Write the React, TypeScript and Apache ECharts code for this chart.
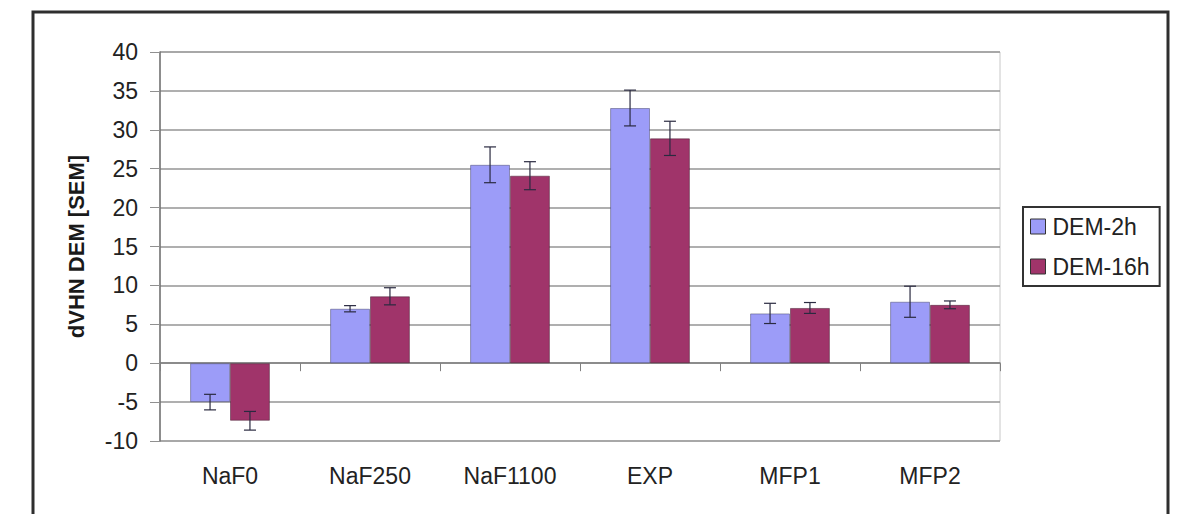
import React, { useEffect, useRef } from "react";
import * as echarts from "echarts";

const categories = ["NaF0", "NaF250", "NaF1100", "EXP", "MFP1", "MFP2"];
const seriesNames = ["DEM-2h", "DEM-16h"];
const dem2h = [-5.0, 7.0, 25.5, 32.8, 6.4, 7.9];
const dem16h = [-7.4, 8.6, 24.1, 28.9, 7.1, 7.5];
const dem2hSem = [1.0, 0.4, 2.3, 2.3, 1.3, 2.0];
const dem16hSem = [1.2, 1.1, 1.8, 2.2, 0.7, 0.5];
const yMin = -10;
const yMax = 40;
const yStep = 5;

const FONT = "'Liberation Sans', Arial, sans-serif";
const GAP = 0.43;
const colors = ["#9c9cf8", "#a0346a"];

function errorSeries(name: string, vals: number[], errs: number[], side: number) {
  return {
    name: name + " SEM",
    type: "custom",
    z: 5,
    xAxisIndex: 0,
    yAxisIndex: 0,
    data: vals.map((v, i) => [i, v, errs[i]]),
    encode: { x: 0, y: 1 },
    renderItem: (params: any, api: any) => {
      const idx = api.value(0);
      const v = api.value(1);
      const e = api.value(2);
      const band = api.size([1, 0])[0];
      const barW = (band * (1 - GAP)) / 2;
      const hi = api.coord([idx, v + e]);
      const lo = api.coord([idx, v - e]);
      const x = hi[0] + (side * barW) / 2;
      const cap = 6;
      const style = { stroke: "#2a2a40", lineWidth: 1.2 };
      return {
        type: "group",
        children: [
          { type: "line", shape: { x1: x, y1: hi[1], x2: x, y2: lo[1] }, style },
          { type: "line", shape: { x1: x - cap, y1: hi[1], x2: x + cap, y2: hi[1] }, style },
          { type: "line", shape: { x1: x - cap, y1: lo[1], x2: x + cap, y2: lo[1] }, style },
        ],
      };
    },
  };
}

export default function App() {
  const ref = useRef<HTMLDivElement>(null);
  useEffect(() => {
    if (!ref.current) return;
    const chart = echarts.init(ref.current, null, { renderer: "svg" });
    chart.setOption({
      animation: false,
      backgroundColor: "#ffffff",
      textStyle: { fontFamily: FONT },
      grid: { left: 160, top: 52, right: 177, bottom: 73, show: true, borderColor: "#c8c8c8", borderWidth: 1, backgroundColor: "transparent" },
      legend: {
        data: seriesNames,
        orient: "vertical",
        left: 1023,
        top: 207,
        padding: [8, 10, 8, 7],
        itemGap: 17,
        itemWidth: 15,
        itemHeight: 15,
        icon: "rect",
        borderColor: "#333",
        borderWidth: 2,
        borderRadius: 0,
        itemStyle: { borderColor: "#333", borderWidth: 1 },
        textStyle: { fontFamily: FONT, fontSize: 23, color: "#222", lineHeight: 23, padding: [0, 0, 0, 2] },
        selectedMode: false,
      },
      xAxis: [
        {
          type: "category",
          data: categories,
          position: "bottom",
          boundaryGap: true,
          axisLine: { onZero: true, lineStyle: { color: "#808080", width: 1.5 } },
          axisTick: { show: true, length: 8, inside: false, lineStyle: { color: "#808080" } },
          axisLabel: { show: false },
          splitLine: { show: false },
        },
        {
          type: "category",
          data: categories,
          position: "bottom",
          boundaryGap: true,
          axisLine: { onZero: false, show: false },
          axisTick: { show: false },
          axisLabel: { show: true, margin: 23, fontFamily: FONT, fontSize: 23, color: "#222" },
          splitLine: { show: false },
        },
      ],
      yAxis: {
        type: "value",
        min: yMin,
        max: yMax,
        interval: yStep,
        name: "dVHN DEM [SEM]",
        nameLocation: "middle",
        nameGap: 73,
        nameRotate: 90,
        nameTextStyle: { fontFamily: FONT, fontSize: 22, fontWeight: "bold", color: "#1a1a1a" },
        axisLine: { show: true, lineStyle: { color: "#707070", width: 1.5 } },
        axisTick: { show: true, length: 10, lineStyle: { color: "#909090" } },
        axisLabel: { margin: 22, fontFamily: FONT, fontSize: 23, color: "#222" },
        splitLine: { show: true, lineStyle: { color: "#959595", width: 1.5 } },
      },
      series: [
        {
          name: seriesNames[0],
          type: "bar",
          data: dem2h,
          barGap: "0%",
          barCategoryGap: GAP * 100 + "%",
          itemStyle: { color: colors[0], borderColor: "rgba(70,70,110,0.5)", borderWidth: 1 },
        },
        {
          name: seriesNames[1],
          type: "bar",
          data: dem16h,
          barGap: "0%",
          barCategoryGap: GAP * 100 + "%",
          itemStyle: { color: colors[1], borderColor: "rgba(70,30,50,0.5)", borderWidth: 1 },
        },
        errorSeries(seriesNames[0], dem2h, dem2hSem, -1),
        errorSeries(seriesNames[1], dem16h, dem16hSem, 1),
      ],
      graphic: [
        {
          type: "rect",
          shape: { x: 33, y: 12, width: 1135, height: 540 },
          style: { fill: "none", stroke: "#2e2e2e", lineWidth: 3 },
          silent: true,
          z: 100,
        },
      ],
    });
    return () => chart.dispose();
  }, []);
  return (
    <div
      ref={ref}
      style={{ position: "absolute", left: 0, top: 0, width: 1177, height: 514 }}
    />
  );
}
